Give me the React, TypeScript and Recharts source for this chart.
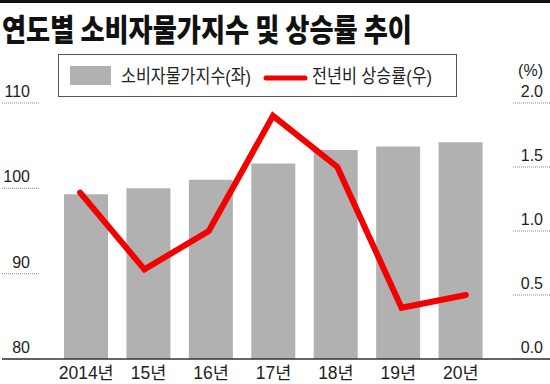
import { ComposedChart, Bar, Line, XAxis, YAxis, Legend } from "recharts";

const years = ["2014년", "15년", "16년", "17년", "18년", "19년", "20년"];
const cpiIndex = [99.3, 100.0, 101.0, 102.9, 104.5, 104.9, 105.4];
const inflationRate = [1.3, 0.7, 1.0, 1.9, 1.5, 0.4, 0.5];
const leftTicks = [80, 90, 100, 110];
const rightTicks = [0, 0.5, 1.0, 1.5, 2.0];

const seriesNames = {
    cpi: "소비자물가지수(좌)",
    rate: "전년비 상승률(우)",
};

const COLORS = {
    bar: "#b1b1b1",
    line: "#f50000",
    text: "#222",
    dots: "#8a8a8a",
};

const FONT = "'Liberation Sans', 'Noto Sans CJK KR', sans-serif";

const chartData = years.map((year, i) => ({
    year,
    cpi: cpiIndex[i],
    rate: inflationRate[i],
}));

const LeftTick = ({ y, payload }: any) => (
    <g>
        <text x={30} y={y - 6} textAnchor="end" fontSize={16} fill={COLORS.text} fontFamily={FONT}>
            {payload.value}
        </text>
        <line x1={2} x2={40} y1={y} y2={y} stroke={COLORS.dots} strokeDasharray="1 1" />
    </g>
);

const RightTick = ({ y, payload }: any) => (
    <g>
        <text x={543} y={y - 6} textAnchor="end" fontSize={16} fill={COLORS.text} fontFamily={FONT}>
            {Number(payload.value).toFixed(1)}
        </text>
        <line x1={513} x2={550} y1={y} y2={y} stroke={COLORS.dots} strokeDasharray="1 1" />
    </g>
);

// year labels sit right at the bottom edge, keep them just inside
const YearTick = ({ x, payload }: any) => (
    <text x={x} y={379} textAnchor="middle" fontSize={17.5} fill={COLORS.text} fontFamily={FONT}>
        {payload.value}
    </text>
);

// legend drawn as a small svg so text widths can be squeezed like the original
const ChartLegend = () => (
    <svg width={400} height={44} style={{ display: "block" }}>
        <rect x={0.5} y={0.5} width={398} height={42} fill="#fff" stroke="#555" />
        <rect x={12} y={12} width={41} height={19} fill={COLORS.bar} />
        <text x={63} y={29} fontSize={19} fill={COLORS.text} fontFamily={FONT} textLength={130} lengthAdjust="spacingAndGlyphs">
            {seriesNames.cpi}
        </text>
        <line x1={208} x2={247} y1={24} y2={24} stroke={COLORS.line} strokeWidth={5} strokeLinecap="round" />
        <text x={254} y={29} fontSize={19} fill={COLORS.text} fontFamily={FONT} textLength={120} lengthAdjust="spacingAndGlyphs">
            {seriesNames.rate}
        </text>
    </svg>
);

export default function App() {
    return (
        <div style={{ position: "absolute", left: 0, top: 0, width: 550, height: 384, background: "#fff" }}>
            <ComposedChart width={550} height={384} data={chartData} margin={{ top: 103, right: 0, bottom: 0, left: 0 }}>
                <XAxis dataKey="year" height={25} axisLine={false} tickLine={false} tick={<YearTick />} interval={0} />
                <XAxis xAxisId="line" dataKey="year" hide padding={{ left: -7, right: -6 }} />
                <YAxis
                    yAxisId="left"
                    orientation="left"
                    width={55}
                    domain={[80, 110]}
                    ticks={leftTicks}
                    axisLine={false}
                    tickLine={false}
                    tick={<LeftTick />}
                    allowDataOverflow
                />
                <YAxis
                    yAxisId="right"
                    orientation="right"
                    width={58}
                    domain={[0, 2]}
                    ticks={rightTicks}
                    axisLine={false}
                    tickLine={false}
                    tick={<RightTick />}
                    allowDataOverflow
                />
                <Legend
                    layout="horizontal"
                    verticalAlign="middle"
                    align="center"
                    content={<ChartLegend />}
                    wrapperStyle={{ position: "absolute", top: 54, left: 58, width: 400, height: 44 }}
                />
                <Bar
                    yAxisId="left"
                    dataKey="cpi"
                    name={seriesNames.cpi}
                    fill={COLORS.bar}
                    barSize={44}
                    isAnimationActive={false}
                />
                <Line
                    xAxisId="line"
                    yAxisId="right"
                    dataKey="rate"
                    name={seriesNames.rate}
                    stroke={COLORS.line}
                    strokeWidth={6}
                    dot={false}
                    strokeLinecap="round"
                    isAnimationActive={false}
                />
            </ComposedChart>
            <svg width={550} height={384} style={{ position: "absolute", left: 0, top: 0, pointerEvents: "none" }}>
                <rect x={0} y={0} width={550} height={3} fill="#111" />
                <text
                    x={2}
                    y={41}
                    fontSize={31}
                    fontWeight={900}
                    fill="#111"
                    fontFamily="'Noto Sans CJK KR', sans-serif"
                    textLength={410}
                    lengthAdjust="spacingAndGlyphs"
                >
                    연도별 소비자물가지수 및 상승률 추이
                </text>
                <text x={543} y={76} textAnchor="end" fontSize={16} fill={COLORS.text} fontFamily={FONT}>
                    (%)
                </text>
                <line x1={2} x2={550} y1={359} y2={359} stroke="#333" strokeWidth={1.5} />
            </svg>
        </div>
    );
}
